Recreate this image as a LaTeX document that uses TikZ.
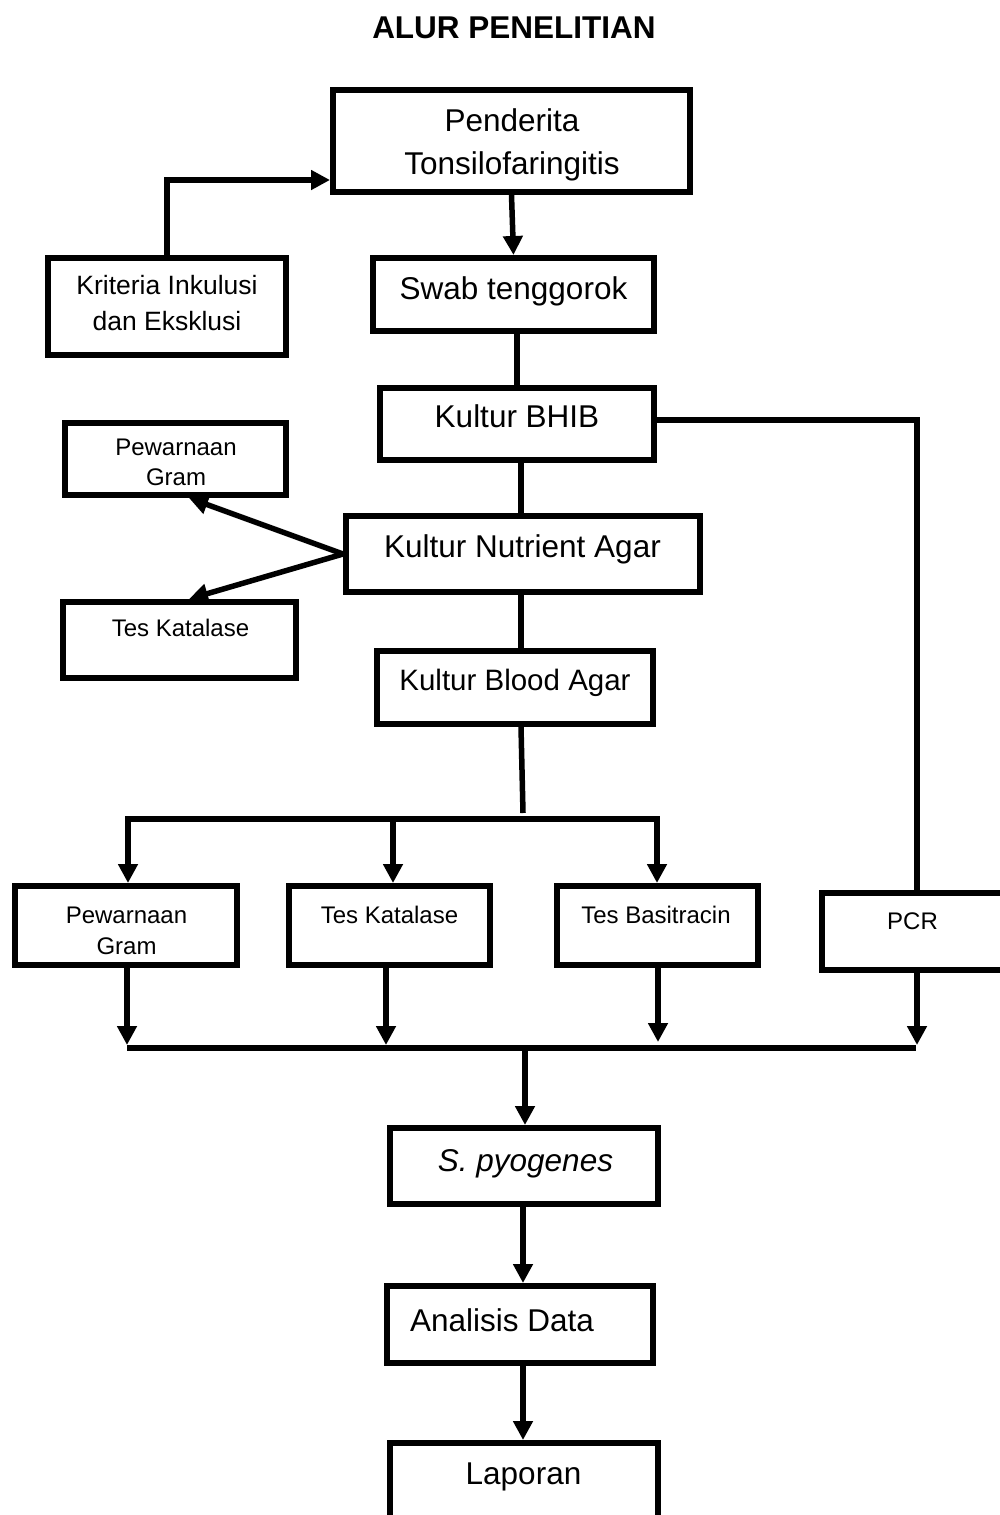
\documentclass[tikz,border=0pt]{standalone}
\usepackage{fontspec}
\setmainfont{Liberation Sans}
\usetikzlibrary{arrows.meta}
\tikzset{
  box/.style={draw, line width=6pt, inner sep=0pt},
  big/.style={anchor=base, inner sep=0pt, font=\fontsize{31.5}{36}\selectfont},
  mid/.style={anchor=base, inner sep=0pt, font=\fontsize{26.5}{30}\selectfont},
  sml/.style={anchor=base, inner sep=0pt, font=\fontsize{24}{28}\selectfont},
  ln/.style={line width=5.5pt},
  arr/.style={ln, -{Triangle[length=19pt,width=19pt]}}
}
\begin{document}
\begin{tikzpicture}[x=1pt,y=-1pt]
\useasboundingbox (0,0) rectangle (999,1515);
% title
\node[big, font=\fontsize{31.5}{36}\selectfont\bfseries] (title) at (514,38) {ALUR PENELITIAN};
% boxes
\node[box, minimum width=357pt, minimum height=102pt] (pen) at (511.5,141) {};
\node[box, minimum width=238pt, minimum height=97pt] (kri) at (167,306.5) {};
\node[box, minimum width=281pt, minimum height=73pt] (swab) at (513.5,294.5) {};
\node[box, minimum width=274pt, minimum height=72pt] (bhib) at (517,424) {};
\node[box, minimum width=221pt, minimum height=72pt] (pg1) at (175.5,459) {};
\node[box, minimum width=354pt, minimum height=76pt] (nut) at (523,554) {};
\node[box, minimum width=233pt, minimum height=76pt] (tk1) at (179.5,640) {};
\node[box, minimum width=276pt, minimum height=73pt] (blood) at (515,687.5) {};
\node[box, minimum width=222pt, minimum height=79pt] (pg2) at (126,925.5) {};
\node[box, minimum width=201pt, minimum height=79pt] (tk2) at (389.5,925.5) {};
\node[box, minimum width=201pt, minimum height=79pt] (tb) at (657.5,925.5) {};
\node[box, minimum width=190pt, minimum height=77pt] (pcr) at (917,931.5) {};
\node[box, minimum width=268pt, minimum height=76pt] (spy) at (524,1166) {};
\node[box, minimum width=266pt, minimum height=77pt] (ana) at (520,1324.5) {};
\node[box, minimum width=268pt, minimum height=94pt] (lap) at (524,1490) {};
% texts
\node[big] (t1) at (512,131) {Penderita};
\node[big] (t2) at (512,174) {Tonsilofaringitis};
\node[mid] (t3) at (167,294.5) {Kriteria Inkulusi};
\node[mid] (t4) at (167,330) {dan Eksklusi};
\node[big] (t5) at (513.5,299) {Swab tenggorok};
\node[big] (t6) at (517,427) {Kultur BHIB};
\node[sml] (t7) at (176,455.5) {Pewarnaan};
\node[sml] (t8) at (176,485.5) {Gram};
\node[big] (t9) at (522.5,557) {Kultur Nutrient Agar};
\node[sml] (t10) at (180.5,636.5) {Tes Katalase};
\node[big, font=\fontsize{29.5}{34}\selectfont] (t11) at (515,690.5) {Kultur Blood Agar};
\node[sml] (t12) at (126.5,923.5) {Pewarnaan};
\node[sml] (t13) at (126.5,954.5) {Gram};
\node[sml] (t14) at (389.5,923.5) {Tes Katalase};
\node[sml] (t15) at (656,923.5) {Tes Basitracin};
\node[sml] (t16) at (912.5,929.5) {PCR};
\node[big] (t17) at (525.5,1171) {\itshape S. pyogenes};
\node[big] (t18) at (502,1331) {Analisis Data};
\node[big] (t19) at (523.5,1484) {Laporan};
% connectors
\draw[arr] (kri.north) |- (pen.west |- 0,180);
\draw[arr] (pen.south) -- (swab.north);
\draw[ln] (swab.south -| bhib.north) -- (bhib.north);
\draw[ln] (bhib.east |- 0,420) -| (pcr.north);
\draw[ln] (bhib.south -| 521,0) -- (nut.north -| 521,0);
\draw[arr] (nut.west) -- (pg1.south -| 189,0);
\draw[arr] (nut.west) -- (tk1.north -| 189,0);
\draw[ln] (nut.south -| 521,0) -- (blood.north -| 521,0);
\coordinate (j1) at (523,813);
\draw[ln] (blood.south -| 521,0) -- (j1);
\coordinate (b1L) at (128,819);
\coordinate (b1M) at (393,819);
\coordinate (b1R) at (657,819);
\draw[ln] (b1L) -- (b1R);
\draw[arr] ([yshift=3pt]b1L) -- (pg2.north -| b1L);
\draw[arr] (b1M) -- (tk2.north -| b1M);
\draw[arr] ([yshift=3pt]b1R) -- (tb.north -| b1R);
\coordinate (b2L) at (127,1048);
\coordinate (b2R) at (916,1048);
\draw[ln] (b2L) -- (b2R);
\draw[arr] (pg2.south -| b2L) -- (127,1045);
\draw[arr] (tk2.south -| 386,0) -- (386,1045);
\draw[arr] (tb.south -| 658,0) -- (658,1042);
\draw[arr] (pcr.south -| 917,0) -- (917,1045);
\coordinate (b2M) at (525,1051);
\draw[arr] (b2M) -- (spy.north -| b2M);
\draw[arr] (spy.south -| 523,0) -- (ana.north -| 523,0);
\draw[arr] (ana.south -| 523,0) -- (lap.north -| 523,0);
\end{tikzpicture}
\end{document}
